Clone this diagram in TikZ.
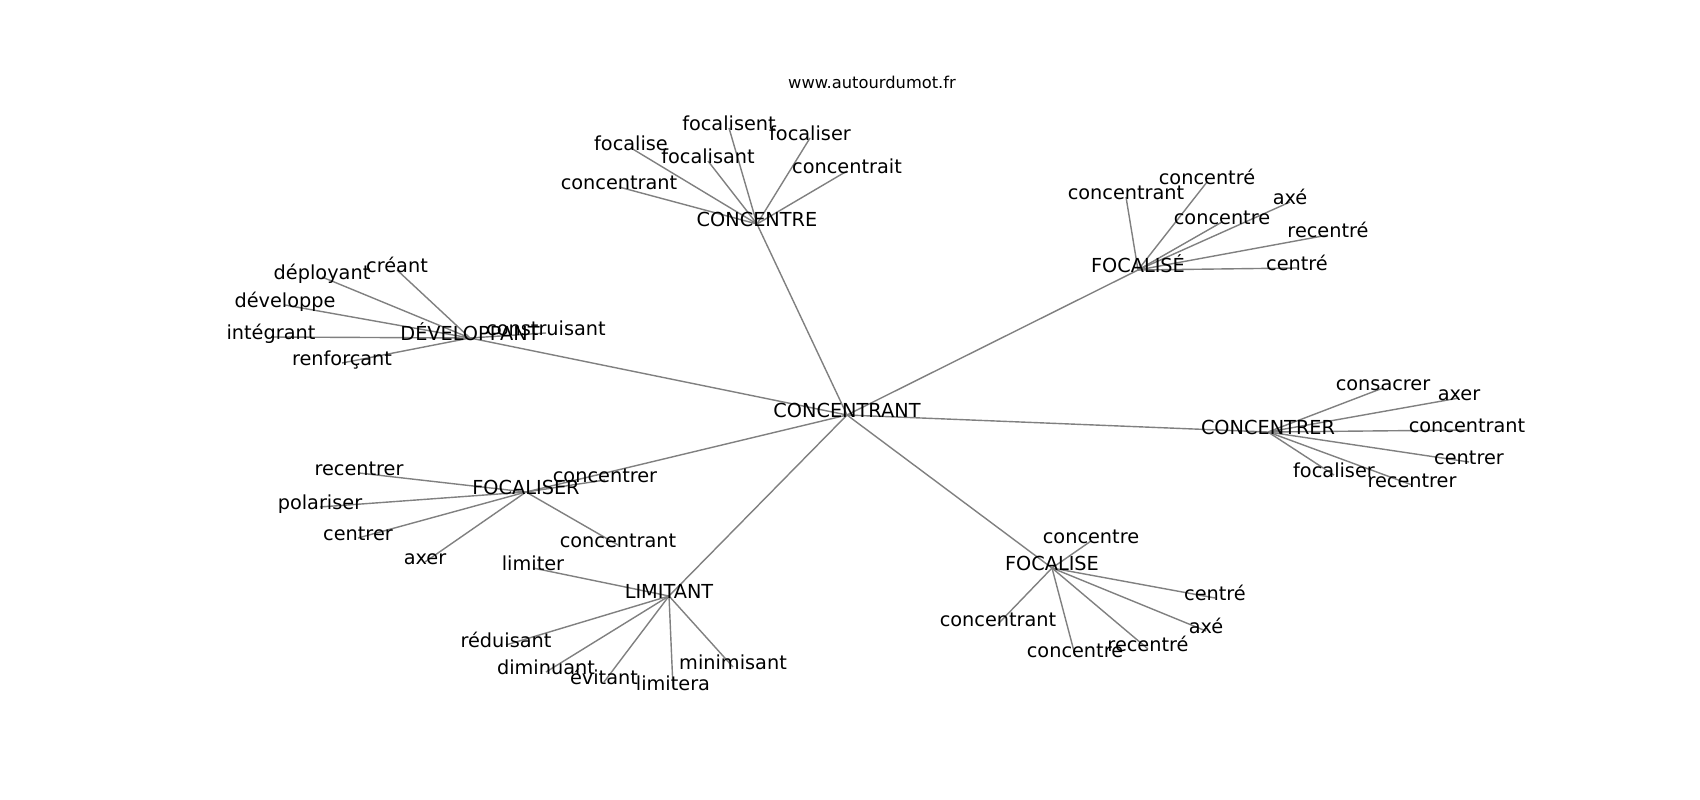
\documentclass[tikz,border=0pt]{standalone}
\usepackage{fontspec}
\setmainfont{DejaVu Sans}
\usetikzlibrary{backgrounds}
\tikzset{
  lbl/.style={inner sep=0pt, text height=0.76em, text depth=0.24em, font=\fontsize{19.3}{23}\selectfont, text=black},
  ttl/.style={inner sep=0pt, text height=0.76em, text depth=0.24em, font=\fontsize{16.3}{20}\selectfont, text=black},
  edge/.style={draw=black!50, line width=1.4pt}
}
\begin{document}
\begin{tikzpicture}[x=1pt,y=-1pt]
\useasboundingbox (0,0) rectangle (1700,800);
\begin{scope}[shift={(0,3)}]
\node[ttl] (title) at (872,83) {www.autourdumot.fr};
% center
\node[lbl] (c) at (847,412) {CONCENTRANT};
% hubs
\node[lbl] (h1) at (757,221) {CONCENTRE};
\node[lbl] (h2) at (1138,267) {FOCALISÉ};
\node[lbl] (h3) at (470,335) {DÉVELOPPANT};
\node[lbl] (h4) at (1268,429) {CONCENTRER};
\node[lbl] (h5) at (526,489) {FOCALISER};
\node[lbl] (h6) at (669,593) {LIMITANT};
\node[lbl] (h7) at (1052,565) {FOCALISE};
% CONCENTRE
\node[lbl] (a1) at (729,125) {focalisent};
\node[lbl] (a2) at (810,135) {focaliser};
\node[lbl] (a3) at (631,145) {focalise};
\node[lbl] (a4) at (708,158) {focalisant};
\node[lbl] (a5) at (847,168) {concentrait};
\node[lbl] (a6) at (619,184) {concentrant};
% FOCALISÉ
\node[lbl] (b1) at (1126,194) {concentrant};
\node[lbl] (b2) at (1207,179) {concentré};
\node[lbl] (b3) at (1290,199) {axé};
\node[lbl] (b4) at (1222,219) {concentre};
\node[lbl] (b5) at (1328,232) {recentré};
\node[lbl] (b6) at (1297,265) {centré};
% DÉVELOPPANT
\node[lbl] (d1) at (546,330) {construisant};
\node[lbl] (d2) at (397,267) {créant};
\node[lbl] (d3) at (322,274) {déployant};
\node[lbl] (d4) at (285,302) {développe};
\node[lbl] (d5) at (271,334) {intégrant};
\node[lbl] (d6) at (342,360) {renforçant};
% CONCENTRER
\node[lbl] (e1) at (1383,385) {consacrer};
\node[lbl] (e2) at (1459,395) {axer};
\node[lbl] (e3) at (1467,427) {concentrant};
\node[lbl] (e4) at (1469,459) {centrer};
\node[lbl] (e5) at (1334,472) {focaliser};
\node[lbl] (e6) at (1412,482) {recentrer};
% FOCALISER
\node[lbl] (f1) at (605,477) {concentrer};
\node[lbl] (f2) at (359,470) {recentrer};
\node[lbl] (f3) at (320,504) {polariser};
\node[lbl] (f4) at (358,535) {centrer};
\node[lbl] (f5) at (425,559) {axer};
\node[lbl] (f6) at (618,542) {concentrant};
% LIMITANT
\node[lbl] (g1) at (533,565) {limiter};
\node[lbl] (g2) at (506,642) {réduisant};
\node[lbl] (g3) at (546,669) {diminuant};
\node[lbl] (g4) at (604,679) {évitant};
\node[lbl] (g5) at (673,685) {limitera};
\node[lbl] (g6) at (733,664) {minimisant};
% FOCALISE
\node[lbl] (k1) at (1091,538) {concentre};
\node[lbl] (k2) at (1215,595) {centré};
\node[lbl] (k3) at (1206,628) {axé};
\node[lbl] (k4) at (1148,646) {recentré};
\node[lbl] (k5) at (1075,652) {concentre};
\node[lbl] (k6) at (998,621) {concentrant};
\end{scope}
\begin{scope}[on background layer]
\fill[white] (0,0) rectangle (1700,800);
\foreach \h in {h1,h2,h3,h4,h5,h6,h7} \draw[edge] (c.center) -- (\h.center);
\foreach \n in {a1,a2,a3,a4,a5,a6} \draw[edge] (h1.center) -- (\n.center);
\foreach \n in {b1,b2,b3,b4,b5,b6} \draw[edge] (h2.center) -- (\n.center);
\foreach \n in {d1,d2,d3,d4,d5,d6} \draw[edge] (h3.center) -- (\n.center);
\foreach \n in {e1,e2,e3,e4,e5,e6} \draw[edge] (h4.center) -- (\n.center);
\foreach \n in {f1,f2,f3,f4,f5,f6} \draw[edge] (h5.center) -- (\n.center);
\foreach \n in {g1,g2,g3,g4,g5,g6} \draw[edge] (h6.center) -- (\n.center);
\foreach \n in {k1,k2,k3,k4,k5,k6} \draw[edge] (h7.center) -- (\n.center);
\end{scope}
\end{tikzpicture}
\end{document}
